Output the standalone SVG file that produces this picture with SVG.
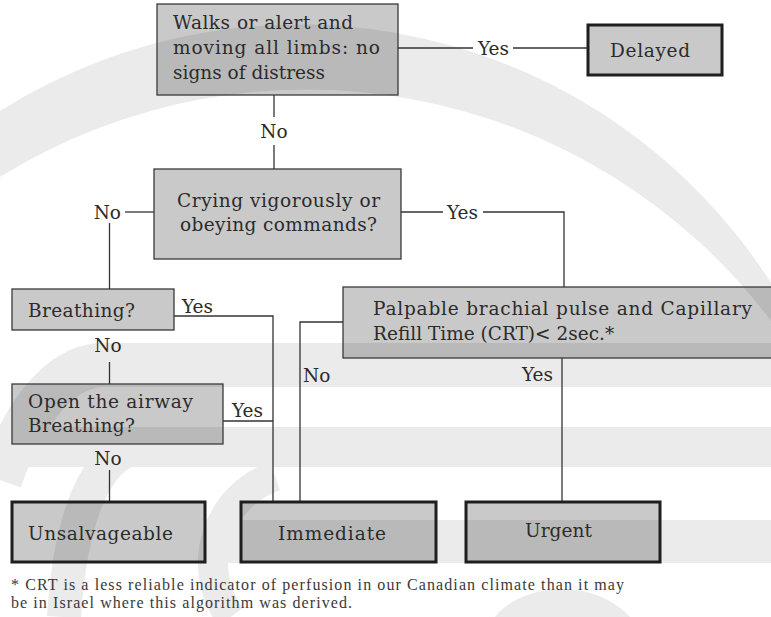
<svg xmlns="http://www.w3.org/2000/svg" width="771" height="617" viewBox="0 0 771 617">
  <style>
    .wm { fill: #ebebeb; }
    .wms { fill: none; stroke: #ebebeb; }
    .q { fill: #000; fill-opacity: 0.21; stroke: #3a3a3a; stroke-width: 1.3; }
    .t { fill: #000; fill-opacity: 0.21; stroke: #1e1e1e; stroke-width: 3; }
    .lbl { font-family: "DejaVu Serif", "Liberation Serif", serif; font-size: 18.5px; fill: #2b2b2b; }
    .note { font-family: "Liberation Serif", "Times New Roman", serif; font-size: 16px; fill: #3a3a3a; }
    .c line, .c polyline { fill: none; stroke: #333; stroke-width: 1.3; }
  </style>

  <rect width="771" height="617" fill="#fff"/>

  <!-- faint background emblem -->
  <g id="emblem">
    <!-- crescent sweeping over the top -->
    <path class="wm" d="M 0 111 A 560 560 0 0 1 771 283 L 771 321 A 581.5 581.5 0 0 0 0 177 Z"/>
    <path class="wms" stroke-width="44" d="M 771 365 H 100 C 60 368 25 410 0 480"/>
    <rect class="wm" x="0" y="427" width="771" height="40"/>
    <rect class="wm" x="205" y="520" width="566" height="43"/>
    <path class="wms" stroke-width="34" d="M 140 447 C 95 452 70 520 64 617"/>
    <path class="wms" stroke-width="30" d="M 275 476 A 92 92 0 0 0 230.5 617"/>
    <path class="wm" d="M 495 617 C 520 585 590 575 630 617 Z"/>
  </g>

  <!-- connectors -->
  <g id="connectors" class="c">
    <line x1="398" y1="48" x2="473" y2="48"/>
    <line x1="513" y1="48" x2="588" y2="48"/>
    <line x1="274" y1="95" x2="274" y2="117"/>
    <line x1="274" y1="145" x2="274" y2="169"/>
    <line x1="154" y1="212" x2="125" y2="212"/>
    <line x1="109.5" y1="223" x2="109.5" y2="289"/>
    <line x1="401" y1="212" x2="443" y2="212"/>
    <polyline points="483,212 564,212 564,287"/>
    <polyline points="174,316 273,316 273,502"/>
    <line x1="109.5" y1="362" x2="109.5" y2="384"/>
    <line x1="223" y1="421" x2="273" y2="421"/>
    <line x1="109.5" y1="470" x2="109.5" y2="502"/>
    <polyline points="343,322 300,322 300,502"/>
    <line x1="562" y1="358" x2="562" y2="502"/>
    <text class="lbl" x="478" y="55">Yes</text>
    <text class="lbl" x="274" y="138" text-anchor="middle">No</text>
    <text class="lbl" x="121" y="219" text-anchor="end">No</text>
    <text class="lbl" x="447" y="219">Yes</text>
    <text class="lbl" x="182" y="313">Yes</text>
    <text class="lbl" x="108" y="352" text-anchor="middle">No</text>
    <text class="lbl" x="232" y="417">Yes</text>
    <text class="lbl" x="108" y="465" text-anchor="middle">No</text>
    <text class="lbl" x="303" y="382">No</text>
    <text class="lbl" x="522" y="381">Yes</text>
  </g>

  <g id="alert">
    <rect class="q" x="157" y="4" width="241" height="91"/>
    <text class="lbl" x="173" y="29" textLength="180">Walks or alert and</text>
    <text class="lbl" x="173" y="54" textLength="207">moving all limbs: no</text>
    <text class="lbl" x="173" y="79" textLength="152">signs of distress</text>
  </g>

  <g id="delayed">
    <rect class="t" x="588" y="25" width="134" height="50"/>
    <text class="lbl" x="610" y="57" textLength="80">Delayed</text>
  </g>

  <g id="crying">
    <rect class="q" x="154" y="169" width="247" height="90"/>
    <text class="lbl" x="177" y="207" textLength="203">Crying vigorously or</text>
    <text class="lbl" x="180" y="231" textLength="197">obeying commands?</text>
  </g>

  <g id="breathing">
    <rect class="q" x="12" y="289" width="162" height="41"/>
    <text class="lbl" x="28" y="317" textLength="107">Breathing?</text>
  </g>

  <g id="airway">
    <rect class="q" x="12" y="384" width="211" height="60"/>
    <text class="lbl" x="28" y="408" textLength="165">Open the airway</text>
    <text class="lbl" x="28" y="432" textLength="107">Breathing?</text>
  </g>

  <g id="perfusion">
    <rect class="q" x="343" y="287" width="440" height="71"/>
    <text class="lbl" x="373" y="315" textLength="379">Palpable brachial pulse and Capillary</text>
    <text class="lbl" x="373" y="340">Refill Time (CRT)&lt; 2sec.*</text>
  </g>

  <g id="unsalvageable">
    <rect class="t" x="12" y="502" width="193" height="60"/>
    <text class="lbl" x="28" y="540" textLength="145">Unsalvageable</text>
  </g>

  <g id="immediate">
    <rect class="t" x="241" y="502" width="195" height="60"/>
    <text class="lbl" x="278" y="540" textLength="108">Immediate</text>
  </g>

  <g id="urgent">
    <rect class="t" x="466" y="502" width="194" height="60"/>
    <text class="lbl" x="525" y="537" textLength="67">Urgent</text>
  </g>

  <g id="footnote">
    <text class="note" x="11" y="590" textLength="613">* CRT is a less reliable indicator of perfusion in our Canadian climate than it may</text>
    <text class="note" x="11" y="608" textLength="341">be in Israel where this algorithm was derived.</text>
  </g>
</svg>
